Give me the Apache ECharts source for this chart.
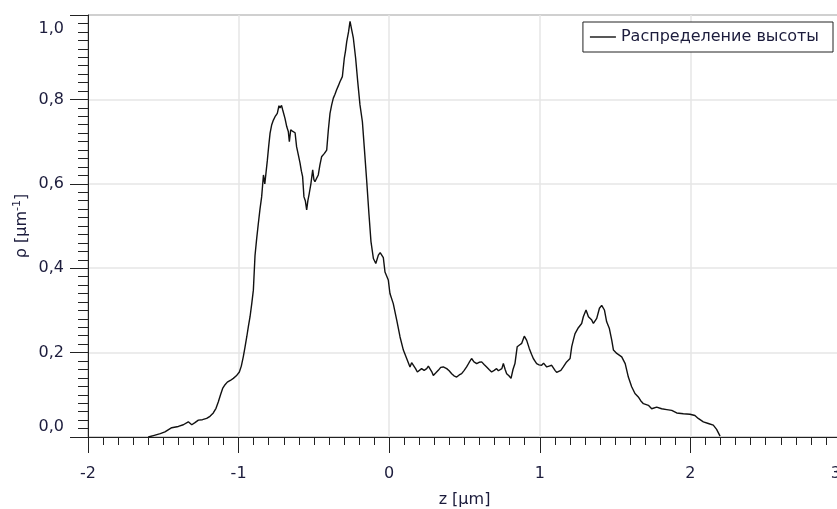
<!DOCTYPE html>
<html>
<head>
<meta charset="utf-8">
<script src="https://cdn.jsdelivr.net/npm/echarts@6/dist/echarts.min.js"></script>
<style>html,body{margin:0;padding:0;background:#fff}#c{width:837px;height:509px}</style>
</head>
<body>
<div id="c"></div>
<script>
const seriesName = 'Распределение высоты';
const xTicks = [-2, -1, 0, 1, 2, 3];
const yTicks = [0, 0.2, 0.4, 0.6, 0.8, 1.0];
const zValues = [
-1.600,-1.560,-1.520,-1.489,-1.444,-1.400,-1.367,-1.334,-1.311,-1.290,-1.267,-1.240,-1.212,-1.190,-1.168,-1.150,-1.135,-1.120,-1.106,-1.090,
-1.075,-1.055,-1.035,-1.015,-0.995,-0.982,-0.969,-0.958,-0.946,-0.935,-0.924,-0.912,-0.902,-0.891,-0.880,-0.869,-0.858,-0.847,-0.835,-0.826,
-0.818,-0.809,-0.800,-0.791,-0.780,-0.769,-0.758,-0.743,-0.732,-0.725,-0.715,-0.707,-0.692,-0.680,-0.670,-0.663,-0.654,-0.640,-0.625,-0.615,
-0.603,-0.592,-0.583,-0.575,-0.566,-0.557,-0.548,-0.540,-0.531,-0.520,-0.508,-0.500,-0.493,-0.482,-0.471,-0.460,-0.449,-0.430,-0.415,-0.404,
-0.393,-0.382,-0.371,-0.360,-0.349,-0.338,-0.327,-0.311,-0.298,-0.290,-0.282,-0.270,-0.260,-0.249,-0.238,-0.223,-0.209,-0.194,-0.178,-0.165,
-0.149,-0.134,-0.121,-0.105,-0.089,-0.072,-0.060,-0.050,-0.039,-0.028,-0.006,0.005,0.027,0.050,0.072,0.094,0.116,0.138,0.149,0.160,
0.175,0.187,0.200,0.215,0.232,0.249,0.260,0.271,0.282,0.293,0.310,0.326,0.342,0.359,0.370,0.382,0.398,0.415,0.430,0.448,
0.465,0.481,0.498,0.514,0.530,0.547,0.563,0.581,0.597,0.614,0.630,0.647,0.663,0.680,0.697,0.713,0.725,0.736,0.748,0.758,
0.770,0.780,0.795,0.809,0.822,0.835,0.850,0.865,0.880,0.897,0.913,0.930,0.945,0.957,0.968,0.979,0.995,1.012,1.025,1.035,
1.046,1.062,1.079,1.090,1.101,1.112,1.123,1.140,1.156,1.167,1.178,1.201,1.212,1.223,1.234,1.256,1.278,1.289,1.307,1.323,
1.345,1.356,1.378,1.396,1.411,1.429,1.444,1.462,1.478,1.489,1.511,1.544,1.567,1.588,1.610,1.632,1.654,1.670,1.688,1.721,
1.743,1.776,1.809,1.843,1.876,1.909,1.953,1.997,2.030,2.052,2.086,2.119,2.152,2.174,2.197
];
const rhoValues = [
0.000,0.004,0.008,0.012,0.022,0.025,0.029,0.036,0.029,0.034,0.040,0.041,0.044,0.049,0.057,0.068,0.083,0.100,0.115,0.124,
0.130,0.134,0.139,0.145,0.154,0.168,0.190,0.212,0.237,0.262,0.285,0.318,0.348,0.430,0.470,0.506,0.540,0.569,0.621,0.600,
0.597,0.656,0.690,0.720,0.740,0.751,0.759,0.767,0.785,0.780,0.786,0.775,0.755,0.735,0.724,0.700,0.728,0.724,0.721,0.688,
0.668,0.649,0.630,0.617,0.569,0.560,0.538,0.560,0.577,0.600,0.633,0.610,0.605,0.613,0.621,0.645,0.664,0.672,0.680,0.728,
0.767,0.787,0.803,0.812,0.823,0.832,0.842,0.854,0.898,0.915,0.937,0.960,0.985,0.965,0.945,0.898,0.842,0.787,0.747,0.684,
0.605,0.526,0.463,0.423,0.411,0.431,0.437,0.439,0.425,0.391,0.372,0.340,0.316,0.277,0.237,0.206,0.186,0.166,0.176,0.174,
0.162,0.154,0.158,0.162,0.158,0.162,0.168,0.170,0.155,0.146,0.152,0.158,0.165,0.166,0.164,0.162,0.157,0.150,0.145,0.142,
0.147,0.150,0.158,0.166,0.176,0.186,0.178,0.174,0.177,0.178,0.172,0.166,0.160,0.154,0.158,0.162,0.157,0.154,0.162,0.174,
0.160,0.150,0.145,0.139,0.160,0.174,0.214,0.218,0.222,0.239,0.229,0.210,0.196,0.186,0.180,0.174,0.171,0.170,0.175,0.178,
0.166,0.168,0.170,0.164,0.158,0.153,0.150,0.158,0.166,0.172,0.178,0.186,0.214,0.230,0.245,0.259,0.269,0.285,0.301,0.285,
0.277,0.269,0.281,0.305,0.312,0.301,0.273,0.257,0.229,0.206,0.198,0.190,0.174,0.142,0.119,0.103,0.095,0.086,0.079,0.075,
0.067,0.071,0.067,0.065,0.063,0.057,0.055,0.054,0.051,0.044,0.036,0.032,0.028,0.018,0.002
];

const FONT = 'DejaVu Sans';
const TXT = '#1c1c3c';
const AX = '#222';
const chart = echarts.init(document.getElementById('c'), null, {renderer: 'canvas'});
const data = zValues.map((z, i) => [z, rhoValues[i]]);
const fmt = v => v.toFixed(1).replace('.', ',');

chart.setOption({
  animation: false,
  backgroundColor: '#fff',
  textStyle: {fontFamily: FONT},
  grid: {left: 88, right: -4, top: 15, bottom: 72, outerBoundsMode: 'none', containLabel: false,
    show: true, borderColor: AX, borderWidth: 1, backgroundColor: 'transparent'},
  legend: {
    right: 4, top: 22,
    orient: 'horizontal',
    data: [{name: seriesName, icon: 'rect'}],
    itemWidth: 26, itemHeight: 1.4, itemGap: 5,
    padding: [7, 14, 7, 7],
    borderColor: AX, borderWidth: 1, backgroundColor: '#fff',
    textStyle: {fontFamily: FONT, fontSize: 16, color: TXT, padding: [2, 0, 0, 0]}
  },
  xAxis: {
    type: 'value', min: xTicks[0], max: xTicks[xTicks.length - 1], interval: 1,
    name: 'z [μm]', nameLocation: 'middle', nameGap: 55,
    nameTextStyle: {fontFamily: FONT, fontSize: 16, color: TXT},
    axisLine: {show: true, onZero: false, lineStyle: {color: AX, width: 1}},
    axisTick: {show: true, length: 16, lineStyle: {color: AX, width: 1}},
    minorTick: {show: true, splitNumber: 10, length: 8, lineStyle: {color: AX, width: 1}},
    axisLabel: {margin: 29, fontFamily: FONT, fontSize: 16, color: TXT, showMaxLabel: true, alignMaxLabel: 'right',
      formatter: v => String(v)},
    splitLine: {show: true, lineStyle: {color: '#e6e6e6', width: 1.5}},
    minorSplitLine: {show: false}
  },
  yAxis: {
    type: 'value', min: yTicks[0], max: yTicks[yTicks.length - 1], interval: 0.2,
    name: 'ρ [μm{sup|-1}]', nameLocation: 'middle', nameGap: 56, nameRotate: 90, nameMoveOverlap: false,
    nameTextStyle: {fontFamily: FONT, fontSize: 16, color: TXT,
      rich: {sup: {fontFamily: FONT, fontSize: 11, color: TXT, verticalAlign: 'top', padding: [0, 0, 9, 0]}}},
    axisLine: {show: true, onZero: false, lineStyle: {color: AX, width: 1}},
    axisTick: {show: true, length: 18, lineStyle: {color: AX, width: 1}},
    minorTick: {show: true, splitNumber: 10, length: 10, lineStyle: {color: AX, width: 1}},
    axisLabel: {
      margin: 24, fontFamily: FONT, fontSize: 16, color: TXT,
      formatter: v => {
        if (Math.abs(v - 1) < 1e-9) return '{hi|' + fmt(v) + '}';
        if (Math.abs(v) < 1e-9) return '{lo|' + fmt(v) + '}';
        return fmt(v);
      },
      rich: {
        hi: {fontFamily: FONT, fontSize: 16, color: TXT, padding: [27, 0, 0, 0]},
        lo: {fontFamily: FONT, fontSize: 16, color: TXT, padding: [0, 0, 20, 0]}
      }
    },
    splitLine: {show: true, lineStyle: {color: '#e6e6e6', width: 1.5}}
  },
  series: [{
    name: seriesName,
    type: 'line',
    data: data,
    showSymbol: false,
    symbol: 'none',
    smooth: false,
    color: '#111',
    lineStyle: {color: '#111', width: 1.4},
    clip: true
  }]
});
</script>
</body>
</html>
